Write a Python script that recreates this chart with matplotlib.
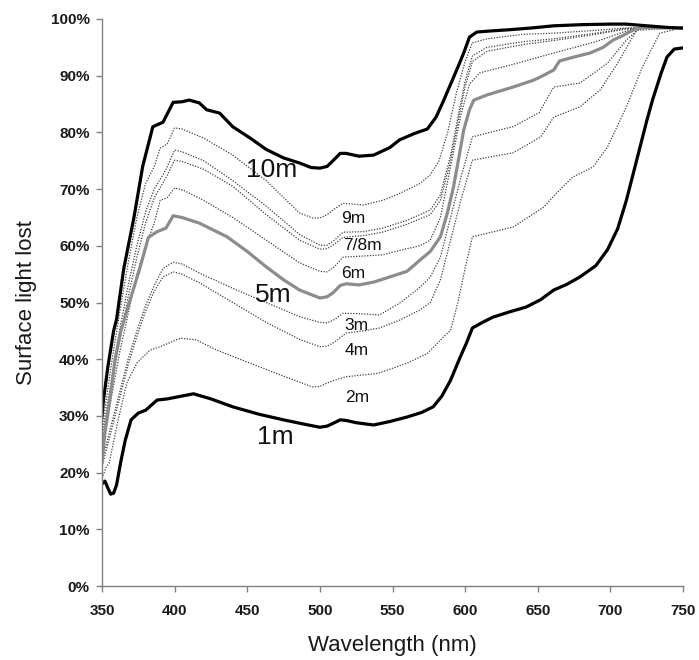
import matplotlib
matplotlib.use("Agg")
import matplotlib.pyplot as plt
from matplotlib.ticker import FuncFormatter

plt.rcParams['font.family'] = ['Liberation Sans', 'DejaVu Sans']

# ---- data (wavelength nm, % of surface light lost) ----
wl_10m = [350, 351, 354, 358, 360, 365, 372, 378, 385, 392, 399, 405, 410, 417, 422, 431, 440, 452, 463, 475,
          486, 494, 500, 505, 509, 514, 518, 527, 537, 548, 555, 565, 574, 580, 585, 590, 595, 599, 603, 608,
          618, 630, 645, 661, 680, 700, 711, 725, 740, 750]
y_10m = [30, 32.8, 38.6, 45, 47, 56, 65, 74, 81, 81.8, 85.3, 85.4, 85.7, 85.2, 84, 83.4, 81, 79, 77, 75.5,
         74.6, 73.8, 73.7, 74, 75, 76.3, 76.3, 75.8, 76, 77.3, 78.7, 79.8, 80.6, 82.7, 85.5, 88.5, 91.5, 94, 96.8, 97.7,
         97.9, 98.1, 98.4, 98.8, 99.0, 99.1, 99.1, 98.8, 98.5, 98.4]

wl_9m = [350, 353, 357, 362, 368, 374, 380, 386, 390, 395, 400, 405, 420, 440, 463, 486, 495, 500, 505, 510,
         516, 530, 543, 553, 569, 576, 582, 588, 594, 600, 605, 615, 640, 661, 690, 710, 725, 750]
y_9m = [28, 33, 40, 48, 57, 65, 71, 74, 77.2, 78, 80.8, 80.6, 79, 76, 71.5, 65.8, 64.9, 64.9, 65.5, 66.5,
        67.5, 67.2, 68, 69, 71, 72.5, 75, 80, 87, 92.5, 95.8, 96.5, 97.3, 97.5, 98, 98.4, 98.5, 98.5]

wl_7m = [350, 353, 357, 362, 368, 374, 380, 386, 394, 400, 406, 420, 440, 463, 486, 500, 505, 510, 516, 530,
         543, 560, 576, 583, 590, 596, 600, 605, 615, 640, 661, 690, 710, 725, 750]
y_7m = [27, 31, 37, 45, 53, 60, 66, 70, 73.4, 76.9, 76.5, 75, 71.5, 67, 62, 60.1, 60.1, 61, 62.4, 62.5,
        63.1, 64.5, 66.3, 69, 76, 84, 89, 93.5, 95, 96, 96.5, 97.5, 98.3, 98.5, 98.5]

wl_8m = wl_7m
y_8m = [26, 30, 36, 43, 51, 58, 64, 68.5, 72, 75.1, 74.8, 73.5, 70.5, 65.5, 61, 59.4, 59.5, 60.3, 61.5, 61.8,
        62.4, 63.8, 65.5, 68, 75, 83, 88, 92.5, 94.3, 95.5, 96.2, 97.3, 98.2, 98.5, 98.5]

wl_6m = [350, 353, 357, 362, 368, 374, 380, 386, 390, 395, 400, 406, 420, 440, 463, 486, 500, 505, 510, 516,
         530, 543, 560, 569, 576, 583, 590, 597, 603, 610, 633, 661, 690, 710, 720, 750]
y_6m = [25, 29, 34, 41, 48, 55, 60, 64, 68, 68.5, 70.2, 69.8, 68, 65, 61, 57, 55.5, 55.4, 56.3, 58,
        58.2, 58.4, 59.5, 60, 61, 65, 74, 83, 88.5, 90.5, 92, 94, 96, 97.8, 98.5, 98.5]

wl_5m = [350, 352, 355, 359, 363, 370, 376, 382, 388, 394, 399, 405, 417, 436, 450, 463, 475, 486, 500, 505,
         509, 514, 518, 527, 537, 548, 560, 569, 576, 583, 588, 592, 596, 599, 603, 606, 615, 633, 647, 652,
         661, 665, 675, 686, 695, 702, 708, 713, 718, 725, 750]
y_5m = [22, 27, 32, 40, 45, 51, 56, 61.5, 62.5, 63.1, 65.3, 65, 64, 61.6, 59, 56.3, 54, 52.2, 50.8, 51,
        51.7, 53, 53.3, 53.1, 53.6, 54.5, 55.5, 57.5, 59, 61.6, 66, 70.4, 76, 80.4, 84, 85.7, 86.6, 88, 89.2, 89.8,
        91, 92.6, 93.3, 94, 95, 96.3, 97, 97.7, 98.3, 98.5, 98.4]

wl_3m = [350, 353, 357, 362, 368, 374, 380, 386, 392, 399, 405, 417, 440, 463, 486, 500, 505, 510, 516, 530,
         541, 555, 569, 576, 583, 590, 597, 605, 620, 633, 651, 661, 679, 698, 711, 720, 750]
y_3m = [22, 25, 29, 34, 40, 45, 49.5, 53, 56, 57.1, 56.8, 55.2, 52.5, 50, 47.5, 46.5, 46.4, 47, 48.1, 48,
        47.8, 49.9, 52.7, 54.5, 58, 65, 72, 79.2, 80.2, 81, 83.5, 88, 88.7, 92.2, 96.3, 98.3, 98.5]

wl_4m = [350, 353, 357, 362, 368, 374, 380, 386, 392, 399, 405, 417, 440, 463, 486, 500, 505, 510, 518, 530,
         541, 555, 569, 576, 583, 590, 597, 605, 620, 633, 652, 661, 679, 693, 705, 718, 750]
y_4m = [21, 24, 28, 33, 39, 44, 48.5, 52, 54.5, 55.4, 55, 53.5, 50, 46.5, 43.5, 42.2, 42.3, 43, 44.6, 45,
        45.5, 46.9, 48.7, 50, 54, 61, 68, 75.1, 75.8, 76.4, 79.2, 82.7, 84.5, 87.5, 92.2, 98, 98.5]

wl_2m = [350, 353, 355, 360, 367, 374, 383, 390, 404, 415, 429, 450, 475, 495, 500, 505, 510, 518, 540, 560,
         574, 583, 590, 595, 600, 605, 620, 633, 654, 663, 674, 688, 698, 711, 722, 734, 750]
y_2m = [19, 21, 21.7, 28, 35.8, 39.3, 41.6, 42.2, 43.7, 43.4, 41.6, 39.5, 37, 35.1, 35.2, 35.8, 36.3, 36.9, 37.5, 39.3,
        41, 43.4, 45.1, 50, 56, 61.6, 62.5, 63.3, 66.8, 69.3, 72.1, 73.9, 77.4, 84.5, 91.5, 97.5, 98.5]

wl_1m = [350, 352, 354, 356, 358, 360, 363, 366, 370, 375, 380, 388, 395, 401, 413, 425, 440, 458, 475, 490,
         500, 505, 510, 514, 518, 525, 537, 548, 560, 570, 578, 584, 590, 596, 601, 605, 612, 619, 630, 642,
         652, 661, 670, 679, 690, 698, 705, 711, 716, 720, 725, 729, 735, 739, 744, 750]
y_1m = [18, 18.5, 17.3, 16.2, 16.4, 17.8, 22, 25.7, 29.3, 30.5, 31, 32.8, 33, 33.3, 33.9, 33, 31.6, 30.3, 29.3, 28.5,
        28, 28.2, 28.8, 29.3, 29.2, 28.8, 28.4, 29, 29.8, 30.6, 31.6, 33.5, 36.3, 40, 42.9, 45.5, 46.5, 47.4, 48.3, 49.2,
        50.5, 52.2, 53.2, 54.5, 56.5, 59.3, 63, 68, 73, 77, 82, 85.7, 90.5, 93.3, 94.7, 94.9]

big_labels = [("10m", 467, 73.4), ("5m", 468, 51.3), ("1m", 469, 26.3)]
small_labels = [("9m", 523, 64.9), ("7/8m", 529, 60.1), ("6m", 523, 55.2),
                ("3m", 525.5, 46.0), ("4m", 525.5, 41.6), ("2m", 525.5, 33.3)]

x_ticks = [350, 400, 450, 500, 550, 600, 650, 700, 750]
y_ticks = [0, 10, 20, 30, 40, 50, 60, 70, 80, 90, 100]

# ---- figure ----
fig = plt.figure(figsize=(6.99, 6.60), dpi=100)
ax = fig.add_axes([102/699, 1 - 586/660, (683 - 102)/699, (586 - 19)/660])

dot = dict(color='#404040', lw=0.9, ls=(0, (1, 1.2)))
for wl, y in [(wl_9m, y_9m), (wl_7m, y_7m), (wl_8m, y_8m), (wl_6m, y_6m),
              (wl_3m, y_3m), (wl_4m, y_4m), (wl_2m, y_2m)]:
    ax.plot(wl, y, **dot)

ax.plot(wl_5m, y_5m, color='#8c8c8c', lw=2.3, solid_joinstyle='round')
ax.plot(wl_10m, y_10m, color='black', lw=2.3, solid_joinstyle='round')
ax.plot(wl_1m, y_1m, color='black', lw=2.3, solid_joinstyle='round')

for t, x, y in big_labels:
    ax.text(x, y, t, fontsize=19, ha='center', va='center', color='#111111')
for t, x, y in small_labels:
    ax.text(x, y, t, fontsize=12.5, ha='center', va='center', color='#111111')

ax.set_xlim(350, 750)
ax.set_ylim(0, 100)
ax.set_xticks(x_ticks)
ax.set_yticks(y_ticks)
ax.yaxis.set_major_formatter(FuncFormatter(lambda v, p: f"{int(v)}%"))
for s in ['top', 'right']:
    ax.spines[s].set_visible(False)
for s in ['left', 'bottom']:
    ax.spines[s].set_color('#808080')
    ax.spines[s].set_linewidth(1.0)
ax.tick_params(axis='both', direction='out', length=4, color='#808080', width=1,
               labelsize=11, labelcolor='#1a1a1a')
ax.tick_params(axis='x', pad=9)
ax.tick_params(axis='y', pad=5)
for lbl in ax.get_xticklabels() + ax.get_yticklabels():
    lbl.set_fontweight('bold')

ax.set_xlabel("Wavelength (nm)", fontsize=16, color='#1a1a1a', labelpad=12)
ax.set_ylabel("Surface light lost", fontsize=16, color='#1a1a1a', labelpad=10)

fig.savefig("out.png", dpi=100, facecolor='white')
